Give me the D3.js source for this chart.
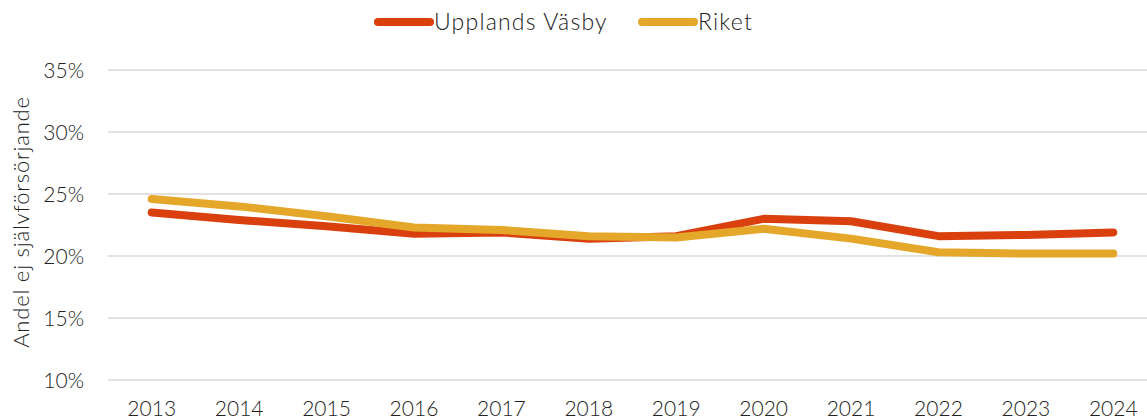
<!DOCTYPE html>
<html>
<head>
<meta charset="utf-8">
<script src="https://cdn.jsdelivr.net/npm/d3@7"></script>
<style>
  html, body { margin: 0; padding: 0; background: #fff; overflow: hidden; }
  svg text { font-family: "Lato", "Open Sans", sans-serif; font-weight: 300; fill: #222; }
</style>
</head>
<body>
<svg id="chart" width="1147" height="420"></svg>
<script>
// Share of population not self-supporting, per year
const years = ["2013","2014","2015","2016","2017","2018","2019","2020","2021","2022","2023","2024"];
const upplandsVasby = [23.5, 22.9, 22.4, 21.8, 21.9, 21.4, 21.6, 23.0, 22.8, 21.6, 21.7, 21.9];
const riket = [24.6, 24.0, 23.2, 22.3, 22.1, 21.6, 21.5, 22.2, 21.4, 20.3, 20.2, 20.2];
const yTicks = [10, 15, 20, 25, 30, 35];
const seriesNames = ["Upplands Väsby", "Riket"];
const seriesColors = ["#D9400E", "#E5A72A"];

const svg = d3.select("#chart");
const plotLeft = 108, plotRight = 1157, plotTop = 70, plotBottom = 380;

const x = d3.scaleBand().domain(years).range([plotLeft, plotRight]);
const y = d3.scaleLinear().domain([10, 35]).range([plotBottom, plotTop]);

// Horizontal gridlines
svg.append("g")
  .selectAll("line")
  .data(yTicks)
  .join("line")
  .attr("x1", plotLeft).attr("x2", 1147)
  .attr("y1", d => y(d)).attr("y2", d => y(d))
  .attr("stroke", "#d9d9d9").attr("stroke-width", 1.5);

// Y axis labels
const yAxis = d3.axisLeft(y).tickValues(yTicks).tickFormat(d => d + "%").tickSize(0).tickPadding(0);
svg.append("g")
  .attr("transform", `translate(${plotLeft - 24},0)`)
  .call(yAxis)
  .call(g => g.select(".domain").remove())
  .call(g => g.selectAll("text").attr("font-size", 21).attr("dy", "0.35em")
    .style("font-family", "Lato, 'Open Sans', sans-serif").style("font-weight", 300).attr("fill", "#222"));

// X axis labels
const xAxis = d3.axisBottom(x).tickSize(0).tickPadding(0);
svg.append("g")
  .attr("transform", `translate(0,${plotBottom + 21})`)
  .call(xAxis)
  .call(g => g.select(".domain").remove())
  .call(g => g.selectAll("text").attr("font-size", 21).attr("dy", "0.71em")
    .style("font-family", "Lato, 'Open Sans', sans-serif").style("font-weight", 300).attr("fill", "#222"));

// Y axis title
svg.append("text")
  .attr("transform", `translate(29,222) rotate(-90)`)
  .attr("text-anchor", "middle")
  .attr("font-size", 22)
  .attr("letter-spacing", 0.8)
  .text("Andel ej självförsörjande");

// Lines
const line = d3.line()
  .x((d, i) => x(years[i]) + x.bandwidth() / 2)
  .y(d => y(d));

[upplandsVasby, riket].forEach((vals, k) => {
  svg.append("path")
    .datum(vals)
    .attr("d", line)
    .attr("fill", "none")
    .attr("stroke", seriesColors[k])
    .attr("stroke-width", 8)
    .attr("stroke-linecap", "round")
    .attr("stroke-linejoin", "round");
});

// Legend
const legendItems = [{x: 378, name: seriesNames[0], color: seriesColors[0]},
                     {x: 642, name: seriesNames[1], color: seriesColors[1]}];
const lg = svg.append("g").selectAll("g").data(legendItems).join("g")
  .attr("transform", d => `translate(${d.x},22)`);
lg.append("line")
  .attr("x1", 0).attr("x2", 52)
  .attr("stroke", d => d.color).attr("stroke-width", 8).attr("stroke-linecap", "round");
lg.append("text")
  .attr("x", 56).attr("dy", "0.35em")
  .attr("font-size", 23)
  .attr("letter-spacing", 1.2)
  .text(d => d.name);
</script>
</body>
</html>
